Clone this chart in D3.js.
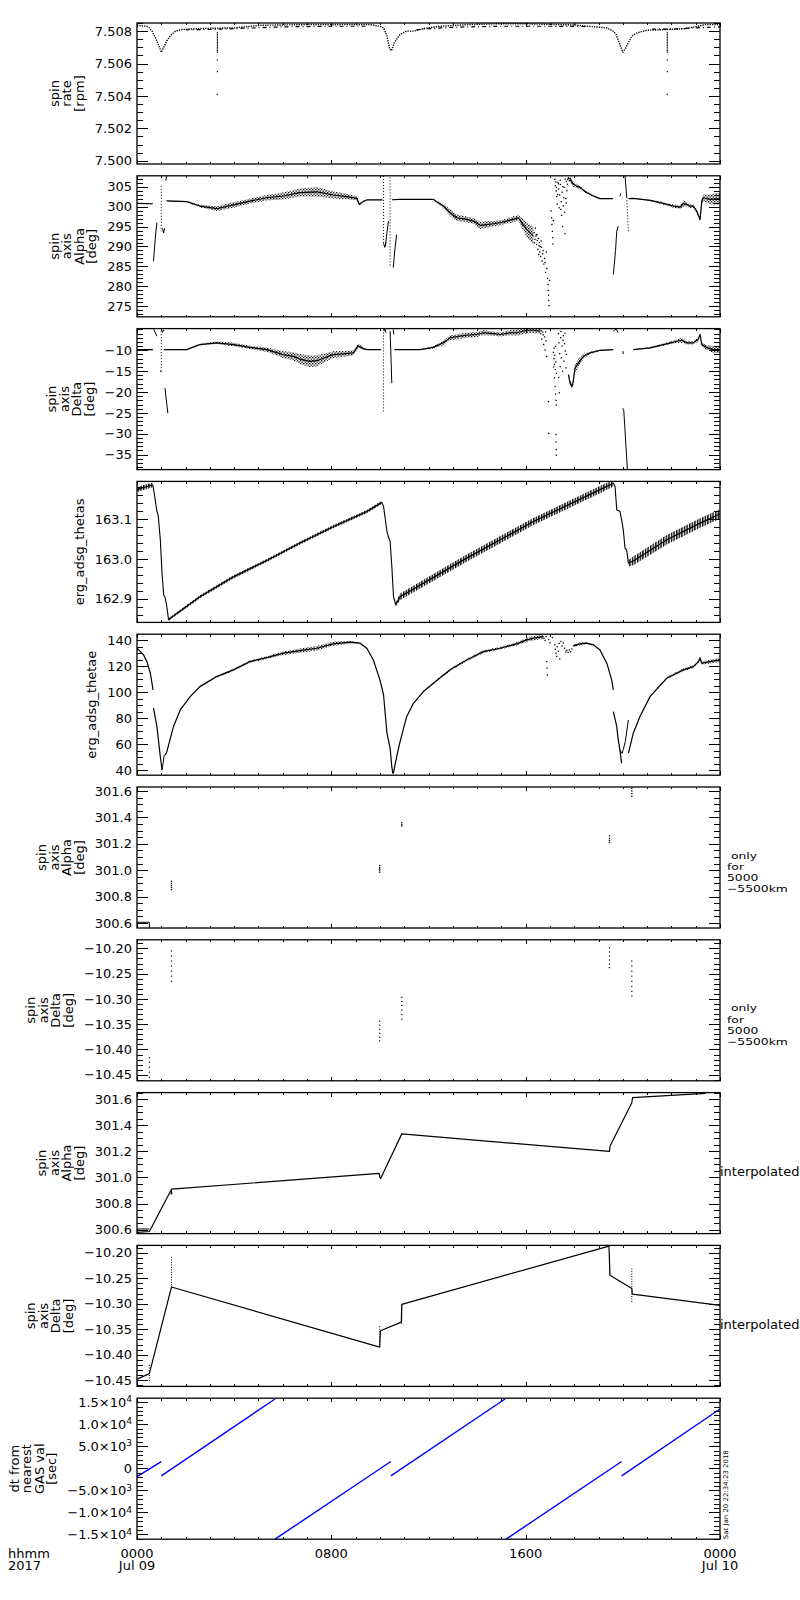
<!DOCTYPE html>
<html><head><meta charset="utf-8">
<script src="https://cdn.jsdelivr.net/npm/d3@7"></script>
<style>
body{margin:0;background:#fff;}
svg{display:block;background:#fff;}
text{font-family:"DejaVu Sans",sans-serif;fill:#000;}
</style></head><body>
<svg id="chart" width="800" height="1600"></svg>
<script>
// ---------------- data ----------------
const hours = [0, 8, 16, 24];
const hourLabels = ["0000", "0800", "1600", "0000"];
const dateLabels = ["Jul 09", "", "", "Jul 10"];
const cornerLabels = ["hhmm", "2017"];
const stampText = "Sat Jan 20 22:34:23 2018";

// panel 1: spin rate
const rateDomain = [7.4998, 7.5085];
const rateTicks = [7.500, 7.502, 7.504, 7.506, 7.508];
const rateT = [0, 0.4, 0.5, 0.62, 0.75, 0.9, 1.0, 1.1, 1.23, 1.37, 1.58, 1.85, 2.6, 4.0, 5.1, 7.0, 9.6, 10.0, 10.15, 10.29, 10.4, 10.48, 10.6, 10.83, 11.1, 11.4, 11.8, 12.5, 13.6, 14.8, 16.0, 18.0, 19.34, 19.6, 19.72, 19.9, 20.0, 20.1, 20.23, 20.38, 20.6, 21.0, 21.8, 22.6, 23.4, 24];
const rateV = [7.50835, 7.5083, 7.5082, 7.5080, 7.5076, 7.5071, 7.50669, 7.50699, 7.5074, 7.5077, 7.5080, 7.5081, 7.50816, 7.5082, 7.50836, 7.5084, 7.5084, 7.5083, 7.5082, 7.5077, 7.5069, 7.50679, 7.5073, 7.5078, 7.5080, 7.5080, 7.50816, 7.5083, 7.5084, 7.50845, 7.50845, 7.50838, 7.5082, 7.5080, 7.5078, 7.5071, 7.50669, 7.5069, 7.5073, 7.5077, 7.5079, 7.50805, 7.5081, 7.50815, 7.5084, 7.5084];
const rate2T = [2.0, 3.0, 4.5, 6.0, 8.0, 9.5, null, 11.5, 12.5, 13.5, 15.0, 17.0, 18.5, null, 21.2, 22.0, 23.0, 24];
const rate2V = [7.50808, 7.5081, 7.50818, 7.50826, 7.5083, 7.5083, null, 7.50808, 7.5082, 7.50826, 7.5083, 7.5083, 7.50828, null, 7.50812, 7.50812, 7.5082, 7.50826];
const rateSpikeT = [3.31, 21.83];
const rateSpikeV = [7.5079, 7.5078, 7.5077, 7.5076, 7.5075, 7.5074, 7.5073, 7.5072, 7.5071, 7.5070, 7.5069, 7.5068, 7.5067, 7.50622, 7.5055, 7.5041];

// panel 2: spin axis alpha
const alphaDomain = [272.4, 307.7];
const alphaTicks = [275, 280, 285, 290, 295, 300, 305];
const alphaT = [0, 0.65, null, 1.22, 2.05, 2.59, 3.28, 3.97, 4.65, 5.34, 6.02, 6.71, 7.4, 8.08, 8.63, 9.05, 9.15, 9.32, 9.46, 10.1, null, 10.5, 10.83, 12.2, 12.34, 12.61, 12.89, 13.16, 13.57, 13.85, 14.12, 14.4, 14.67, 14.94, 15.22, 15.49, 15.7, 15.84, 16.04, 16.32, null, 17.83, 17.96, 18.1, 18.24, 18.51, 18.79, 19.06, 19.6, null, 20.23, 20.43, 21.12, 21.53, 21.81, 22.08, 22.36, 22.49, 22.63, 22.77, 22.9, 23.04, 23.18, 23.25, 23.31, 23.59, 24];
const alphaV = [300.8, 300.7, null, 301.4, 301.25, 300.13, 299.46, 300.4, 301.38, 302.2, 302.64, 303.5, 303.7, 302.9, 302.5, 302.06, 300.55, 301.3, 301.65, 301.65, null, 301.7, 301.8, 301.8, 301.2, 300.13, 298.46, 297.2, 296.8, 296.37, 295.3, 295.5, 295.7, 295.95, 296.37, 296.8, 297.2, 295.95, 294.27, 292.6, null, 306.8, 305.58, 305.15, 304.75, 303.5, 302.64, 301.98, 301.98, null, 302.0, 302.06, 301.56, 300.98, 300.55, 300.13, 299.88, 300.73, 300.55, 300.13, 300.13, 298.87, 296.8, 301.38, 302.2, 301.8, 302.0];
const alphaS = [0.15, 0.15, null, 0.1, 0.15, 0.3, 0.6, 0.7, 0.6, 0.7, 0.9, 1.0, 1.2, 0.9, 0.7, 0.5, 0.3, 0.2, 0.1, 0.1, null, 0.1, 0.1, 0.1, 0.2, 0.6, 0.8, 0.8, 0.7, 0.7, 0.9, 0.8, 0.7, 0.6, 0.6, 0.8, 0.6, 1.2, 1.8, 2.2, null, 0.6, 0.6, 0.5, 0.4, 0.3, 0.2, 0.15, 0.1, null, 0.1, 0.1, 0.2, 0.3, 0.3, 0.4, 0.4, 0.8, 0.5, 0.4, 0.4, 0.6, 0.5, 0.8, 0.8, 1.2, 1.5];
const alphaBitT = [0.68, 0.75, 0.82, null, 1.05, 1.1, 1.13, null, 1.18, 1.22, null, 10.15, 10.2, 10.25, null, 10.22, 10.35, null, 10.55, 10.62, 10.69, null, 19.61, 19.7, 19.75, 19.81, null, 19.88, 19.92, null, 20.09, 20.16];
const alphaBitV = [286.3, 292, 296, null, 294.5, 293.4, 294.6, null, 306.5, 307.6, null, 290.8, 289.8, 291, null, 290, 296.4, null, 284.7, 289.5, 293, null, 283.0, 289, 293.85, 295.1, null, 302.6, 303.3, null, 307.66, 302.3];
const alphaDotT = [1.0, 1.0, null, 10.15, 10.15, null, 10.42, 10.42, null, 20.16, 20.23];
const alphaDotV = [305.2, 293.8, null, 307.66, 290.5, null, 307.3, 284.7, null, 302.3, 293.4];
const alphaScatT = [16.35, 16.38, 16.42, 16.45, 16.48, 16.5, 16.55, 16.58, 16.62, 16.65, 16.68, 16.7, 16.75, 16.78, 16.82, 16.87, 16.9, 16.92, 16.93, 16.94, 16.95, 16.96, 16.98, 17.05, 17.07, 17.08, 17.1, 17.11, 17.12, 17.14, 17.2, 17.22, 17.25, 17.28, 17.3, 17.33, 17.36, 17.38, 17.4, 17.43, 17.46, 17.48, 17.5, 17.52, 17.55, 17.58, 17.6, 17.62, 17.65, 17.68, 17.7, 17.73, 17.76, 17.8, 17.83, 17.86, 17.9, 16.4, 16.44, 16.52, 16.57, 16.6, 16.64, 16.72, 16.8, 16.85, 17.24, 17.27, 17.32, 17.35, 17.42, 17.45, 17.53, 17.57, 17.63, 17.67, 17.72, 17.78, 16.36, 16.47, 16.53];
const alphaScatV = [293.5, 291.8, 292.6, 290.5, 291.5, 289.3, 290.2, 288.6, 287.5, 289.8, 286.4, 288.2, 285.6, 287.0, 283.5, 284.5, 282.0, 280.5, 279.0, 277.8, 276.5, 275.2, 281.5, 298.9, 297.2, 295.5, 293.8, 292.2, 290.6, 296.5, 306.8, 305.2, 303.9, 302.5, 300.6, 306.0, 304.4, 299.7, 302.9, 305.5, 301.2, 297.8, 303.6, 295.0, 300.2, 304.8, 298.6, 293.2, 302.0, 306.3, 304.0, 306.8, 307.2, 306.5, 307.0, 306.6, 305.9, 294.6, 293.0, 292.0, 291.0, 290.0, 291.4, 289.0, 286.0, 288.6, 306.2, 304.8, 303.0, 305.7, 306.6, 299.3, 305.0, 302.2, 306.9, 300.9, 305.6, 307.0, 290.9, 292.9, 288.0];

// panel 3: spin axis delta
const deltaDomain = [-38.6, -4.8];
const deltaTicks = [-35, -30, -25, -20, -15, -10];
const deltaT = [0, 0.65, null, 1.1, 2.05, 2.59, 3.28, 3.97, 4.65, 5.34, 6.02, 6.44, 6.71, 7.12, 7.4, 7.67, 8.08, 8.5, 8.91, 9.11, 9.32, 9.46, 10.05, null, 10.6, 10.83, 11.65, 12.2, 12.61, 12.89, 13.3, 13.57, 13.98, 14.26, 14.67, 14.94, 15.36, 15.63, 16.04, 16.32, 16.6, null, 17.76, 17.83, 17.9, 17.96, 18.03, 18.17, 18.38, 18.65, 19.06, 19.61, null, 20.43, 21.12, 21.81, 22.22, 22.43, 22.63, 22.9, 23.1, 23.18, 23.25, 23.45, 23.73, 24];
const deltaV = [-9.83, -9.83, null, -9.83, -9.83, -8.62, -8.21, -8.62, -9.3, -9.83, -11.04, -11.45, -12.1, -12.65, -12.5, -11.9, -11.04, -10.85, -10.63, -8.9, -9.6, -9.83, -9.83, null, -9.83, -9.83, -9.83, -9.3, -8.21, -7.0, -6.62, -6.4, -6.21, -5.8, -6.0, -6.21, -5.8, -5.8, -5.2, -5.2, -5.41, null, -15.86, -17.87, -18.69, -17.48, -14.26, -13.05, -11.45, -10.63, -10.0, -9.83, null, -9.83, -9.42, -8.45, -7.83, -7.6, -8.21, -8.21, -7.42, -6.21, -8.62, -9.35, -9.83, -9.83];
const deltaS = [0.15, 0.15, null, 0.1, 0.15, 0.2, 0.3, 0.4, 0.4, 0.5, 0.8, 1.0, 1.2, 1.4, 1.3, 1.1, 0.8, 0.7, 0.6, 0.4, 0.3, 0.1, 0.1, null, 0.1, 0.1, 0.1, 0.3, 0.5, 0.6, 0.6, 0.6, 0.6, 0.6, 0.5, 0.5, 0.6, 0.7, 0.7, 0.7, 0.5, null, 0.3, 0.6, 0.6, 0.8, 1.0, 1.0, 0.6, 0.3, 0.15, 0.1, null, 0.1, 0.2, 0.3, 0.4, 0.6, 0.4, 0.4, 0.5, 0.3, 0.5, 0.6, 0.8, 0.8];
const deltaBitT = [0.69, 0.82, null, 0.95, 1.0, null, 1.05, 1.08, 1.12, null, 1.15, 1.27, null, 10.17, 10.2, 10.25, null, 10.42, 10.49, null, 10.55, 10.57, null, 19.61, 19.72, 19.81, null, 20.0, 20.02, null, 20.0, 20.04, 20.19];
const deltaBitV = [-5.0, -6.62, null, -15.07, -15.07, null, -5.8, -5.1, -5.4, null, -19.07, -25.1, null, -5.4, -4.9, -5.8, null, -5.4, -17.87, null, -5.0, -6.2, null, -5.4, -4.9, -5.8, null, -10.2, -10.9, null, -23.9, -24.5, -38.7];
const deltaDotT = [1.0, 1.0, null, 10.15, 10.15];
const deltaDotV = [-5.41, -15.07, null, -5.0, -25.1];
const deltaScatT = [16.62, 16.66, 16.7, 16.74, 16.78, 16.8, 16.84, 16.86, 16.94, 16.95, 17.14, 17.16, 17.18, 17.2, 17.22, 17.24, 17.26, 17.17, 17.21, 17.23, 17.25, 17.26, 17.25, 17.25, 17.26, 17.26, 17.35, 17.37, 17.4, 17.42, 17.44, 17.47, 17.5, 17.52, 17.55, 17.58, 17.6, 17.63, 17.66, 17.36, 17.39, 16.64, 16.72, 16.82, 17.15, 17.19, 17.23, 17.45, 17.54, 17.62, 17.68];
const deltaScatV = [-6.0, -7.3, -5.6, -8.6, -6.8, -9.9, -7.7, -11.5, -22.3, -29.9, -10.5, -12.0, -13.4, -11.2, -14.6, -12.8, -15.5, -9.5, -18.7, -20.5, -22.0, -23.1, -30.2, -32.0, -33.8, -35.2, -6.0, -8.2, -10.8, -13.9, -7.0, -11.8, -9.0, -15.0, -6.5, -12.6, -8.4, -10.2, -14.2, -16.5, -20.2, -5.3, -6.3, -5.6, -14.0, -16.6, -9.1, -5.5, -7.6, -5.9, -11.0];

// panel 4: erg_adsg_thetas
const thetasDomain = [162.8406, 163.1947];
const thetasTicks = [162.9, 163.0, 163.1];
const thetasBandT = [0, 0.3, 0.65, null, 1.3, 2.59, 3.97, 5.34, 6.71, 8.08, 9.46, 10.08, null, 10.65, 10.83, 13.57, 16.32, 19.06, 19.61, null, 20.23, 20.43, 21.81, 23.18, 24];
const thetasBandV = [163.174, 163.18, 163.186, null, 162.848, 162.905, 162.955, 162.996, 163.04, 163.081, 163.119, 163.142, null, 162.885, 162.905, 163.002, 163.094, 163.174, 163.19, null, 162.989, 162.995, 163.048, 163.09, 163.113];
const thetasBandS = [0.006, 0.006, 0.006, null, 0.003, 0.004, 0.004, 0.004, 0.004, 0.004, 0.004, 0.004, null, 0.006, 0.008, 0.009, 0.009, 0.009, 0.008, null, 0.008, 0.011, 0.012, 0.012, 0.012];
const thetasDropT = [0.65, 0.71, 0.82, 0.87, 0.96, 1.03, 1.1, 1.15, 1.23, 1.3, null, 10.08, 10.15, 10.29, 10.35, 10.42, 10.49, 10.56, 10.65, null, 19.61, 19.68, 19.75, 19.88, 19.95, 20.02, 20.09, 20.16, 20.23];
const thetasDropV = [163.186, 163.165, 163.119, 163.111, 163.048, 162.964, 162.909, 162.905, 162.88, 162.846, null, 163.142, 163.132, 163.069, 163.055, 163.044, 162.981, 162.905, 162.885, null, 163.191, 163.182, 163.123, 163.12, 163.098, 163.073, 163.027, 163.022, 162.989];

// panel 5: erg_adsg_thetae
const thetaeDomain = [36.2, 144.6];
const thetaeTicks = [40, 60, 80, 100, 120, 140];
const thetaeT = [0, 0.14, 0.27, 0.41, 0.55, 0.66, null, 0.68, 0.82, 0.96, 1.03, null, 1.17, 1.23, 1.5, 1.78, 2.19, 2.59, 3.28, 3.97, 4.65, 5.34, 6.02, 6.71, 7.4, 8.08, 8.77, 9.18, 9.46, 9.73, 10.0, 10.15, 10.29, 10.42, 10.49, 10.53, null, 10.55, 10.62, 10.72, 10.83, 11.1, 11.38, 11.79, 12.2, 12.89, 13.57, 14.26, 14.94, 15.63, 16.04, 16.32, 16.73, null, 17.96, 18.24, 18.51, 18.79, 19.06, 19.34, 19.54, 19.61, null, 19.61, 19.75, 19.81, 19.88, 19.95, null, 20.23, 20.43, 20.7, 21.12, 21.81, 22.49, 22.9, 23.11, 23.18, 23.25, 23.59, 24];
const thetaeV = [133.8, 131.2, 128.7, 123.5, 114.6, 101.8, null, 87.7, 73.5, 50.5, 40.2, null, 51.8, 54.3, 73.5, 86.4, 96.6, 104.3, 112.0, 117.2, 123.5, 126.6, 130.0, 132.0, 133.8, 137.2, 138.5, 137.7, 133.8, 124.8, 109.5, 97.9, 68.5, 56.9, 42.8, 37.5, null, 37.5, 44, 53, 62.0, 81.2, 91.5, 100.5, 106.9, 117.2, 124.8, 131.2, 133.8, 137.2, 140.2, 141.5, 142.8, null, 135.6, 137.2, 137.7, 136.4, 132.5, 122.3, 109.5, 101.8, null, 85.1, 73.5, 63.3, 55.6, 45.4, null, 53.1, 68.5, 81.2, 96.6, 110.8, 117.2, 119.7, 123.5, 126.2, 122.3, 123.5, 124.8];
const thetaeS = [0.5, 0.5, 0.5, 0.5, 0.5, 0.5, null, 0.3, 0.3, 0.3, 0.3, null, 0.4, 0.4, 0.4, 0.4, 0.4, 0.5, 0.6, 0.8, 0.9, 1.0, 1.3, 1.6, 1.8, 1.5, 1.0, 0.6, 0.4, 0.4, 0.4, 0.4, 0.4, 0.4, 0.4, 0.4, null, 0.4, 0.4, 0.4, 0.4, 0.4, 0.4, 0.5, 0.6, 0.8, 0.9, 1.0, 1.0, 1.2, 1.5, 1.8, 1.5, null, 1.0, 1.0, 0.8, 0.5, 0.4, 0.4, 0.4, 0.4, null, 0.4, 0.4, 0.4, 0.4, 0.4, null, 0.4, 0.4, 0.4, 0.5, 0.8, 1.0, 1.0, 1.2, 1.0, 1.2, 1.5, 1.5];
const thetaeBitT = [1.03, 1.08, 1.12, null, 19.88, 19.93, 19.97, 20.02, 20.1, 20.23];
const thetaeBitV = [40.2, 46, 52, null, 55.6, 54, 53, 56, 62, 78.7];
const thetaeScatT = [16.75, 16.8, 16.85, 16.87, 16.88, 16.89, 16.95, 17.0, 17.1, 17.2, 17.22, 17.25, 17.28, 17.3, 17.35, 17.38, 17.4, 17.45, 17.5, 17.55, 17.6, 17.65, 17.7, 17.75, 17.8, 17.85, 17.9];
const thetaeScatV = [141.5, 139.8, 142.8, 123.5, 118.5, 113.3, 140.5, 138.0, 142.0, 136.5, 133.0, 130.0, 127.5, 135.0, 131.5, 137.5, 125.5, 139.0, 135.5, 137.8, 133.8, 131.0, 132.2, 130.6, 132.5, 131.0, 133.2];

// panel 6: spin axis alpha (only for 5000-5500 km)
const onlyAlphaDomain = [300.562, 301.63];
const onlyAlphaTicks = [300.6, 300.8, 301.0, 301.2, 301.4, 301.6];
const onlyAlphaT = [1.42, 1.42, 1.42, 1.42, 1.42, 9.99, 9.99, 9.99, 9.99, 9.99, 10.9, 10.9, 10.9, 19.45, 19.45, 19.45, 19.45, 20.37, 20.37, 20.37, 20.37];
const onlyAlphaV = [300.853, 300.87, 300.885, 300.9, 300.916, 300.985, 301.0, 301.01, 301.02, 301.035, 301.335, 301.345, 301.36, 301.21, 301.225, 301.24, 301.26, 301.56, 301.58, 301.6, 301.62];
const onlyAlphaLineT = [0, 0.51, 0.51];
const onlyAlphaLineV = [300.605, 300.605, 300.562];

// panel 7: spin axis delta (only for 5000-5500 km)
const onlyDeltaDomain = [-10.462, -10.183];
const onlyDeltaTicks = [-10.45, -10.40, -10.35, -10.30, -10.25, -10.20];
const onlyDeltaT = [0.51, 0.51, 0.51, 0.51, 0.51, 1.42, 1.42, 1.42, 1.42, 1.42, 1.42, 1.42, 9.99, 9.99, 9.99, 9.99, 9.99, 9.99, 10.9, 10.9, 10.9, 10.9, 10.9, 10.9, 19.45, 19.45, 19.45, 19.45, 19.45, 19.45, 20.37, 20.37, 20.37, 20.37, 20.37, 20.37, 20.37, 20.37];
const onlyDeltaV = [-10.416, -10.425, -10.435, -10.445, -10.455, -10.205, -10.215, -10.225, -10.235, -10.245, -10.255, -10.265, -10.344, -10.352, -10.36, -10.368, -10.376, -10.383, -10.297, -10.305, -10.313, -10.322, -10.331, -10.34, -10.199, -10.207, -10.215, -10.223, -10.231, -10.238, -10.225, -10.235, -10.245, -10.255, -10.265, -10.275, -10.285, -10.294];

// panel 8: interpolated alpha
const interpAlphaDomain = [300.569, 301.652];
const interpAlphaTicks = [300.6, 300.8, 301.0, 301.2, 301.4, 301.6];
const interpAlphaT = [0, 0.51, 1.42, 9.97, 10.0, 10.03, 10.9, 19.45, 19.47, 20.37, 20.4, 23.4];
const interpAlphaV = [300.578, 300.585, 300.91, 301.032, 301.0, 300.993, 301.335, 301.2, 301.24, 301.574, 301.613, 301.646];
const interpAlphaBitT = [0, 0.51, null, 1.40, 1.42, 1.44];
const interpAlphaBitV = [300.604, 300.604, null, 300.87, 300.9, 300.87];

// panel 9: interpolated delta
const interpDeltaDomain = [-10.462, -10.1855];
const interpDeltaTicks = [-10.45, -10.40, -10.35, -10.30, -10.25, -10.20];
const interpDeltaT = [0, 0.51, 1.42, 9.99, 10.02, 10.88, 10.9, 19.43, 19.47, 20.37, 20.39, 24];
const interpDeltaV = [-10.448, -10.437, -10.267, -10.385, -10.353, -10.336, -10.301, -10.187, -10.244, -10.27, -10.281, -10.303];
const interpDeltaDotT = [0.51, 0.51, null, 1.42, 1.42, null, 9.99, 9.99, null, 10.9, 10.9, null, 19.45, 19.45, null, 20.37, 20.37];
const interpDeltaDotV = [-10.42, -10.455, null, -10.208, -10.267, null, -10.344, -10.385, null, -10.303, -10.34, null, -10.201, -10.244, null, -10.231, -10.299];

// panel 10: dt from nearest GAS val
const dtDomain = [-16070, 15910];
const dtTicks = [-15000, -10000, -5000, 0, 5000, 10000, 15000];
const dtTickMant = ["\u22121.5", "\u22121.0", "\u22125.0", "0", "5.0", "1.0", "1.5"];
const dtTickExp = ["4", "4", "3", "", "3", "4", "4"];
const dtT = [0, 1.0, null, 1.0, 5.68, null, 5.68, 10.45, null, 10.45, 15.15, null, 15.19, 19.95, null, 19.95, 24];
const dtV = [-1864, 1546, null, -1705, 15730, null, -16070, 1546, null, -1705, 15730, null, -16070, 1546, null, -1705, 13456];

const yLabels = [
  ["spin", "rate", "[rpm]"],
  ["spin", "axis", "Alpha", "[deg]"],
  ["spin", "axis", "Delta", "[deg]"],
  ["erg_adsg_thetas"],
  ["erg_adsg_thetae"],
  ["spin", "axis", "Alpha", "[deg]"],
  ["spin", "axis", "Delta", "[deg]"],
  ["spin", "axis", "Alpha", "[deg]"],
  ["spin", "axis", "Delta", "[deg]"],
  ["dt from", "nearest", "GAS val", "[sec]"]
];
const onlyLabel = [" only", "for", "5000", "\u22125500km"];
const interpLabel = ["interpolated"];

// ---------------- drawing ----------------
const svg = d3.select("#chart");
const L = 137, R = 720, TOP0 = 23, PITCH = 152.8, PH = 141;
const x = d3.scaleLinear().domain([0, 24]).range([L, R]);

const defs = svg.append("defs");
const stip = defs.append("pattern").attr("id", "stip").attr("width", 3).attr("height", 3).attr("patternUnits", "userSpaceOnUse");
stip.append("rect").attr("x", 0).attr("y", 0).attr("width", 1.3).attr("height", 1.3).attr("fill", "#000");
stip.append("rect").attr("x", 1.5).attr("y", 1.5).attr("width", 1.3).attr("height", 1.3).attr("fill", "#000");
const hatch = defs.append("pattern").attr("id", "hatch").attr("width", 2.6).attr("height", 4).attr("patternUnits", "userSpaceOnUse");
hatch.append("rect").attr("x", 0).attr("y", 0).attr("width", 1.4).attr("height", 4).attr("fill", "#000");

function pts(T, V, S) { return T.map((t, k) => [t, V[k], S ? S[k] : 0]); }
function lineIn(g, y, T, V, opt = {}) {
  const gen = d3.line().defined(d => d[0] != null && d[1] != null).x(d => x(d[0])).y(d => y(d[1]));
  g.append("path").attr("d", gen(pts(T, V))).attr("fill", "none")
    .attr("stroke", opt.color || "#000").attr("stroke-width", opt.w || 1)
    .attr("stroke-dasharray", opt.dash || null).attr("stroke-linejoin", "round");
}
function bandIn(g, y, T, V, S, fill) {
  const gen = d3.area().defined(d => d[0] != null && d[1] != null)
    .x(d => x(d[0])).y0(d => y(d[1] - d[2])).y1(d => y(d[1] + d[2]));
  g.append("path").attr("d", gen(pts(T, V, S))).attr("fill", fill || "url(#stip)");
  lineIn(g, y, T, V, { w: 1.2 });
}
function dotsIn(g, y, P, size) {
  size = size || 1.3;
  g.selectAll(null).data(P).join("rect")
    .attr("x", d => x(d[0]) - size / 2).attr("y", d => y(d[1]) - size / 2)
    .attr("width", size).attr("height", size).attr("fill", "#000");
}
function txt(sel, size) { return sel.append("text").style("font-size", size + "px"); }

const fmt3 = d3.format(".3f"), fmtD = d3.format("d"), fmt1 = d3.format(".1f"), fmt2 = d3.format(".2f");

const panels = [
  { dom: rateDomain, ticks: rateTicks, minor: 0.0005, fmt: fmt3, draw: (g, y) => {
      lineIn(g, y, rateT, rateV, { w: 1.4, dash: "1.3 1.1" });
      lineIn(g, y, rate2T, rate2V, { w: 1.2, dash: "4 3 1 3" });
      dotsIn(g, y, rateSpikeT.flatMap(t => rateSpikeV.map(v => [t, v])), 1.2);
  } },
  { dom: alphaDomain, ticks: alphaTicks, minor: 1, fmt: fmtD, draw: (g, y) => {
      bandIn(g, y, alphaT, alphaV, alphaS);
      lineIn(g, y, alphaBitT, alphaBitV, { w: 1 });
      lineIn(g, y, alphaDotT, alphaDotV, { w: 1, dash: "1 2" });
      dotsIn(g, y, pts(alphaScatT, alphaScatV));
  } },
  { dom: deltaDomain, ticks: deltaTicks, minor: 1, fmt: fmtD, draw: (g, y) => {
      bandIn(g, y, deltaT, deltaV, deltaS);
      lineIn(g, y, deltaBitT, deltaBitV, { w: 1 });
      lineIn(g, y, deltaDotT, deltaDotV, { w: 1, dash: "1 2" });
      dotsIn(g, y, pts(deltaScatT, deltaScatV));
  } },
  { dom: thetasDomain, ticks: thetasTicks, minor: 0.02, fmt: fmt1, draw: (g, y) => {
      bandIn(g, y, thetasBandT, thetasBandV, thetasBandS, "url(#hatch)");
      lineIn(g, y, thetasDropT, thetasDropV, { w: 1.1 });
  } },
  { dom: thetaeDomain, ticks: thetaeTicks, minor: 5, fmt: fmtD, draw: (g, y) => {
      bandIn(g, y, thetaeT, thetaeV, thetaeS);
      lineIn(g, y, thetaeBitT, thetaeBitV, { w: 1 });
      dotsIn(g, y, pts(thetaeScatT, thetaeScatV));
  } },
  { dom: onlyAlphaDomain, ticks: onlyAlphaTicks, minor: 0.05, fmt: fmt1, right: onlyLabel, draw: (g, y) => {
      dotsIn(g, y, pts(onlyAlphaT, onlyAlphaV), 1.3);
      lineIn(g, y, onlyAlphaLineT, onlyAlphaLineV, { w: 1 });
  } },
  { dom: onlyDeltaDomain, ticks: onlyDeltaTicks, minor: 0.01, fmt: fmt2, right: onlyLabel, draw: (g, y) => {
      dotsIn(g, y, pts(onlyDeltaT, onlyDeltaV), 1.2);
  } },
  { dom: interpAlphaDomain, ticks: interpAlphaTicks, minor: 0.05, fmt: fmt1, right: interpLabel, draw: (g, y) => {
      lineIn(g, y, interpAlphaT, interpAlphaV, { w: 1.2 });
      lineIn(g, y, interpAlphaBitT, interpAlphaBitV, { w: 1 });
  } },
  { dom: interpDeltaDomain, ticks: interpDeltaTicks, minor: 0.01, fmt: fmt2, right: interpLabel, draw: (g, y) => {
      lineIn(g, y, interpDeltaT, interpDeltaV, { w: 1.2 });
      lineIn(g, y, interpDeltaDotT, interpDeltaDotV, { w: 1, dash: "1 1.5" });
  } },
  { dom: dtDomain, ticks: dtTicks, minor: 1000, fmt: null, draw: (g, y) => {
      lineIn(g, y, dtT, dtV, { w: 1.4, color: "#0000ff" });
  } }
];

panels.forEach((p, i) => {
  const top = TOP0 + i * PITCH, bot = top + PH;
  const y = d3.scaleLinear().domain(p.dom).range([bot, top]);
  const g = svg.append("g");
  const cid = "clip" + i;
  svg.append("clipPath").attr("id", cid).append("rect")
    .attr("x", L).attr("y", top).attr("width", R - L).attr("height", PH);
  const dg = g.append("g").attr("clip-path", `url(#${cid})`);
  p.draw(dg, y);

  const ax = g.append("g").attr("stroke", "#000").attr("shape-rendering", "crispEdges");
  const k0 = Math.ceil(p.dom[0] / p.minor - 1e-6), k1 = Math.floor(p.dom[1] / p.minor + 1e-6);
  const minors = d3.range(k0, k1 + 1).map(k => k * p.minor);
  minors.forEach(v => {
    const yy = Math.round(y(v)) + 0.5;
    ax.append("line").attr("x1", L).attr("x2", L + 6).attr("y1", yy).attr("y2", yy);
    ax.append("line").attr("x1", R).attr("x2", R - 6).attr("y1", yy).attr("y2", yy);
  });
  p.ticks.forEach(v => {
    const yy = Math.round(y(v)) + 0.5;
    ax.append("line").attr("x1", L).attr("x2", L + 11).attr("y1", yy).attr("y2", yy);
    ax.append("line").attr("x1", R).attr("x2", R - 11).attr("y1", yy).attr("y2", yy);
  });
  d3.range(0, 25).forEach(h => {
    const len = hours.includes(h) ? 4 : 2.3;
    const xx = Math.round(x(h)) + 0.5;
    ax.append("line").attr("x1", xx).attr("x2", xx).attr("y1", bot).attr("y2", bot - len);
    ax.append("line").attr("x1", xx).attr("x2", xx).attr("y1", top).attr("y2", top + len);
  });
  g.append("rect").attr("x", L).attr("y", top).attr("width", R - L).attr("height", PH)
    .attr("fill", "none").attr("stroke", "#000").attr("stroke-width", 1.3);

  let maxW = 0;
  p.ticks.forEach((v, k) => {
    const t = txt(g, 13).attr("x", L - 5).attr("y", y(v)).attr("dy", "0.36em").attr("text-anchor", "end");
    if (p.fmt) {
      t.text(p.fmt(v));
    } else {
      t.append("tspan").text(dtTickMant[k] + (dtTickExp[k] ? "\u00d710" : ""));
      if (dtTickExp[k]) t.append("tspan").attr("dy", "-0.5em").style("font-size", "9px").text(dtTickExp[k]);
    }
    maxW = Math.max(maxW, t.node().getComputedTextLength());
  });

  const lines = yLabels[i];
  const cy = (top + bot) / 2;
  const lastX = L - 5 - maxW - 11;
  lines.forEach((s, k) => {
    const bx = lastX - (lines.length - 1 - k) * 12.5;
    txt(g, 13).attr("transform", `translate(${bx},${cy}) rotate(-90)`)
      .attr("text-anchor", "middle").style("white-space", "pre").text(s);
  });

  if (p.right) {
    if (p.right.length > 1) {
      p.right.forEach((s, k) => {
        txt(g, 9.5).attr("transform", `translate(727,${cy + 1 + k * 11.2}) scale(1.3,1)`)
          .style("white-space", "pre").text(s);
      });
    } else {
      txt(g, 13).attr("x", 720).attr("y", cy + 13).text(p.right[0]);
    }
  }
  if (i === panels.length - 1) {
    txt(g, 6.5).attr("transform", `translate(728,${bot}) rotate(-90)`)
      .attr("textLength", 89).attr("lengthAdjust", "spacingAndGlyphs")
      .text(stampText);
  }
});

const lastBot = TOP0 + (panels.length - 1) * PITCH + PH;
hours.forEach((h, k) => {
  txt(svg, 13).attr("x", x(h)).attr("y", lastBot + 19).attr("text-anchor", "middle").text(hourLabels[k]);
  if (dateLabels[k]) txt(svg, 13).attr("x", x(h)).attr("y", lastBot + 31).attr("text-anchor", "middle").text(dateLabels[k]);
});
cornerLabels.forEach((s, k) => {
  txt(svg, 13).attr("x", 8).attr("y", lastBot + 19 + k * 12).text(s);
});
</script>
</body></html>
